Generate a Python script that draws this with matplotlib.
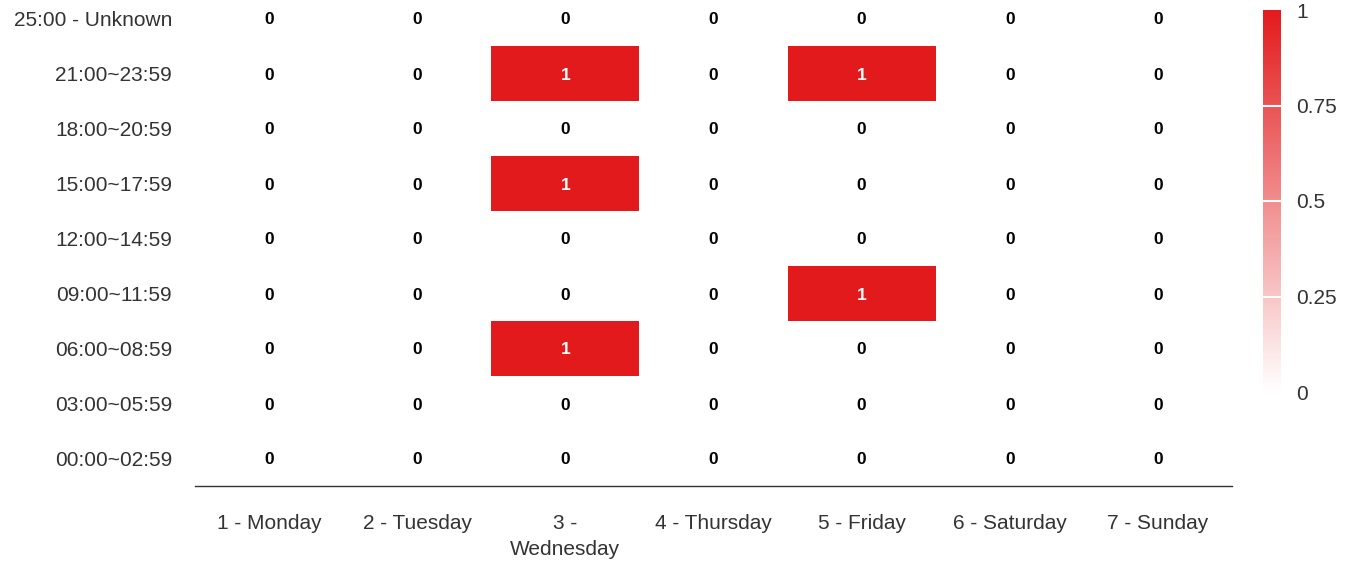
import numpy as np
import matplotlib.pyplot as plt
from matplotlib.colors import LinearSegmentedColormap

# Day / time-slot data
days = ["1 - Monday", "2 - Tuesday", "3 -\nWednesday", "4 - Thursday",
        "5 - Friday", "6 - Saturday", "7 - Sunday"]
slots = ["00:00~02:59", "03:00~05:59", "06:00~08:59", "09:00~11:59",
         "12:00~14:59", "15:00~17:59", "18:00~20:59", "21:00~23:59",
         "25:00 - Unknown"]
# one row per slot (bottom to top), one column per day
counts = [
    [0, 0, 0, 0, 0, 0, 0],
    [0, 0, 0, 0, 0, 0, 0],
    [0, 0, 1, 0, 0, 0, 0],
    [0, 0, 0, 0, 1, 0, 0],
    [0, 0, 0, 0, 0, 0, 0],
    [0, 0, 1, 0, 0, 0, 0],
    [0, 0, 0, 0, 0, 0, 0],
    [0, 0, 1, 0, 1, 0, 0],
    [0, 0, 0, 0, 0, 0, 0],
]
cbar_ticks = [0, 0.25, 0.5, 0.75, 1]
cbar_labels = ["0", "0.25", "0.5", "0.75", "1"]

plt.rcParams['font.family'] = ['Liberation Sans', 'DejaVu Sans']
txt = '#333333'

cmap = LinearSegmentedColormap.from_list("wr", ["#ffffff", "#e31a1c"])
data = np.array(counts)

fig = plt.figure(figsize=(13.48, 5.63), dpi=100)
ax = fig.add_axes([195 / 1348, 77 / 563, 1037 / 1348, 495 / 563])

mesh = ax.pcolormesh(np.arange(len(days) + 1) - 0.5, np.arange(len(slots) + 1) - 0.5,
                     data, cmap=cmap, vmin=0, vmax=1)
ax.set_xlim(-0.5, len(days) - 0.5)
ax.set_ylim(-0.5, len(slots) - 0.5)

for i in range(len(slots)):
    for j in range(len(days)):
        v = data[i, j]
        ax.text(j, i, str(v), ha='center', va='center_baseline', fontsize=12.5,
                fontweight='bold', color='white' if v > 0.5 else 'black')

ax.set_xticks(range(len(days)))
ax.set_xticklabels(days, fontsize=15, color=txt, linespacing=1.45, va='top')
ax.set_yticks(range(len(slots)))
ax.set_yticklabels(slots, fontsize=15, color=txt, va='center_baseline')
ax.tick_params(length=0)
ax.tick_params(axis='x', pad=20)
ax.tick_params(axis='y', pad=16.5)
for s in ['top', 'left', 'right']:
    ax.spines[s].set_visible(False)
ax.spines['bottom'].set_color('#333333')
ax.spines['bottom'].set_linewidth(1)

# colour bar
cax = fig.add_axes([1263 / 1348, 171 / 563, 18 / 1348, 382 / 563])
cb = fig.colorbar(mesh, cax=cax, ticks=cbar_ticks)
cb.outline.set_visible(False)
cb.ax.set_yticklabels(cbar_labels, fontsize=15, color=txt)
cb.ax.tick_params(length=0, pad=11)
for t in cbar_ticks[1:-1]:
    cax.axhline(t, color='white', lw=1.5)

fig.savefig("out.png", dpi=100)
